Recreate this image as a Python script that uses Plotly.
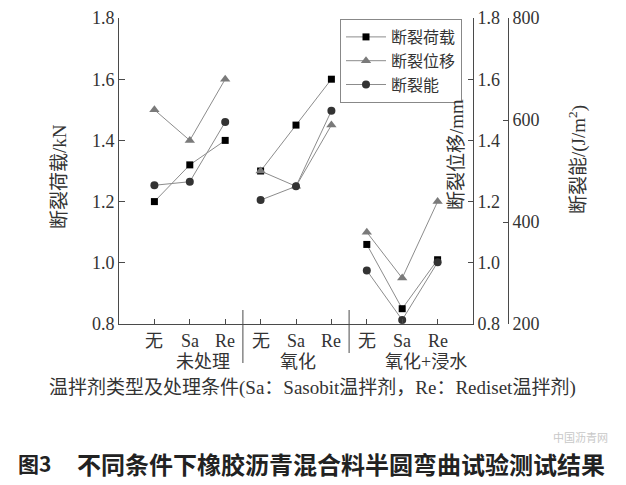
import plotly.graph_objects as go

# ---- data ----
categories = ["无", "Sa", "Re"]
groups = ["未处理", "氧化", "氧化+浸水"]
load_kN = [1.20, 1.32, 1.40, 1.30, 1.45, 1.60, 1.06, 0.85, 1.01]
disp_mm = [1.50, 1.40, 1.60, 1.30, 1.25, 1.45, 1.10, 0.95, 1.20]
energy_J = [472, 479, 596, 443, 470, 618, 305, 208, 321]
series_names = ["断裂荷载", "断裂位移", "断裂能"]
y_left_ticks = [0.8, 1.0, 1.2, 1.4, 1.6, 1.8]
y_energy_ticks = [200, 400, 600, 800]

FONT = "Liberation Serif, Noto Sans CJK SC"
AX = "#4a4a4a"
TXT = "#333333"

n_cat = len(categories)
n_grp = len(groups)


def with_gaps(vals):
    xs, ys = [], []
    for g in range(n_grp):
        for c in range(n_cat):
            i = g * n_cat + c
            xs.append(i)
            ys.append(vals[i])
        xs.append(None)
        ys.append(None)
    return xs, ys


fig = go.Figure()
styles = [
    dict(symbol="square", size=7, color="#000000"),
    dict(symbol="triangle-up", size=9, color="#7a7a7a"),
    dict(symbol="circle", size=8, color="#333333"),
]
axes = ["y", "y2", "y3"]
for name, vals, st, ax in zip(series_names, [load_kN, disp_mm, energy_J], styles, axes):
    xs, ys = with_gaps(vals)
    fig.add_trace(go.Scatter(
        x=xs, y=ys, name=name, yaxis=ax, mode="lines+markers",
        line=dict(color="#8c8c8c", width=1),
        marker=dict(symbol=st["symbol"], size=st["size"], color=st["color"],
                    line=dict(width=0)),
        connectgaps=False,
    ))

# page body has an 8px margin -> work in window pixels, convert to figure pixels
OFF = 8
W, H = 626 - OFF, 485 - OFF
left_px, right_px, outer_px, top_px, bottom_px = 119, 473, 508, 18, 324
L = left_px - OFF
T = top_px - OFF
R = W - (outer_px - OFF)
B = H - (bottom_px - OFF)
pw = W - L - R
ph = H - T - B
dom_r = (right_px - left_px) / pw


def px(xw):
    return (xw - left_px) / pw


def py(yw):
    return (bottom_px - yw) / ph


tickfont = dict(family=FONT, size=18, color=TXT)
fig.update_layout(
    width=W, height=H,
    margin=dict(l=L, r=R, t=T, b=B, autoexpand=False),
    paper_bgcolor="white", plot_bgcolor="white",
    showlegend=True,
    legend=dict(x=px(340), y=py(19), xanchor="left", yanchor="top",
                bordercolor="#888888", borderwidth=1, bgcolor="white",
                font=dict(family=FONT, size=16, color=TXT),
                itemwidth=40, tracegroupgap=0),
    xaxis=dict(domain=[0, dom_r], range=[-1, n_cat * n_grp], showgrid=False,
               zeroline=False, showline=True, linecolor=AX, linewidth=1,
               tickmode="array", tickvals=list(range(n_cat * n_grp)),
               ticks="inside", ticklen=5, tickcolor=AX, showticklabels=False,
               automargin=False),
    yaxis=dict(range=[0.8, 1.8], tickvals=y_left_ticks, tickformat=".1f",
               showgrid=False, zeroline=False, showline=True, linecolor=AX,
               linewidth=1, ticks="inside", ticklen=6, tickcolor=AX,
               tickfont=tickfont, automargin=False),
    yaxis2=dict(range=[0.8, 1.8], tickvals=y_left_ticks, tickformat=".1f",
                overlaying="y", side="right", anchor="x",
                showgrid=False, zeroline=False, showline=True, linecolor=AX,
                linewidth=1, ticks="inside", ticklen=5, tickcolor=AX,
                tickfont=tickfont, automargin=False),
    yaxis3=dict(range=[200, 800], tickvals=y_energy_ticks,
                overlaying="y", side="right", anchor="free", position=1,
                showgrid=False, zeroline=False, showline=True, linecolor=AX,
                linewidth=1, ticks="inside", ticklen=5, tickcolor=AX,
                tickfont=tickfont, automargin=False),
)

ann = []
# category labels
for g in range(n_grp):
    for c, cat in enumerate(categories):
        ann.append(dict(x=g * n_cat + c, xref="x", y=py(340.5), yref="paper",
                        text=cat, showarrow=False, xanchor="center", yanchor="middle",
                        font=dict(family=FONT, size=18, color=TXT)))
# group labels
grp_x = [1.37, 4.05, 7.67]
for gx, gname in zip(grp_x, groups):
    ann.append(dict(x=gx, xref="x", y=py(361.5), yref="paper", text=gname,
                    showarrow=False, xanchor="center", yanchor="middle",
                    font=dict(family=FONT, size=18, color=TXT)))
# axis titles
ann.append(dict(x=px(60), y=py(177), xref="paper", yref="paper", text="断裂荷载/kN",
                textangle=-90, showarrow=False, xanchor="center", yanchor="middle",
                font=dict(family=FONT, size=19, color=TXT)))
ann.append(dict(x=px(456), y=py(155), xref="paper", yref="paper", text="断裂位移/mm",
                textangle=-90, showarrow=False, xanchor="center", yanchor="middle",
                font=dict(family=FONT, size=19, color=TXT)))
ann.append(dict(x=px(577), y=py(160), xref="paper", yref="paper",
                text="断裂能/(J/m<sup>2</sup>)",
                textangle=-90, showarrow=False, xanchor="center", yanchor="middle",
                font=dict(family=FONT, size=19, color=TXT)))
ann.append(dict(x=px(312), y=py(388), xref="paper", yref="paper",
                text="温拌剂类型及处理条件(Sa：Sasobit温拌剂，Re：Rediset温拌剂)",
                showarrow=False, xanchor="center", yanchor="middle",
                font=dict(family=FONT, size=19, color=TXT)))
# caption
ann.append(dict(x=px(16), y=py(463), xref="paper", yref="paper", text="<b>图3</b>",
                showarrow=False, xanchor="left", yanchor="middle",
                font=dict(family="Noto Sans CJK SC", size=21, color="#222222")))
ann.append(dict(x=px(341), y=py(463), xref="paper", yref="paper",
                text="<b>不同条件下橡胶沥青混合料半圆弯曲试验测试结果</b>",
                showarrow=False, xanchor="center", yanchor="middle",
                font=dict(family="Noto Sans CJK SC", size=24, color="#222222")))
# watermark
ann.append(dict(x=px(580), y=py(437), xref="paper", yref="paper", text="中国沥青网",
                showarrow=False, xanchor="center", yanchor="middle",
                font=dict(family="Noto Sans CJK SC", size=11, color="#c8c8c8")))
fig.update_layout(annotations=ann)

# group separators
sep_bottom = [363, 353]
for k, yb in enumerate(sep_bottom):
    fig.add_shape(type="line", xref="x", yref="paper",
                  x0=(k + 1) * n_cat - 0.5, x1=(k + 1) * n_cat - 0.5,
                  y0=py(310), y1=py(yb), line=dict(color=AX, width=1))

fig.write_html("out.html")
